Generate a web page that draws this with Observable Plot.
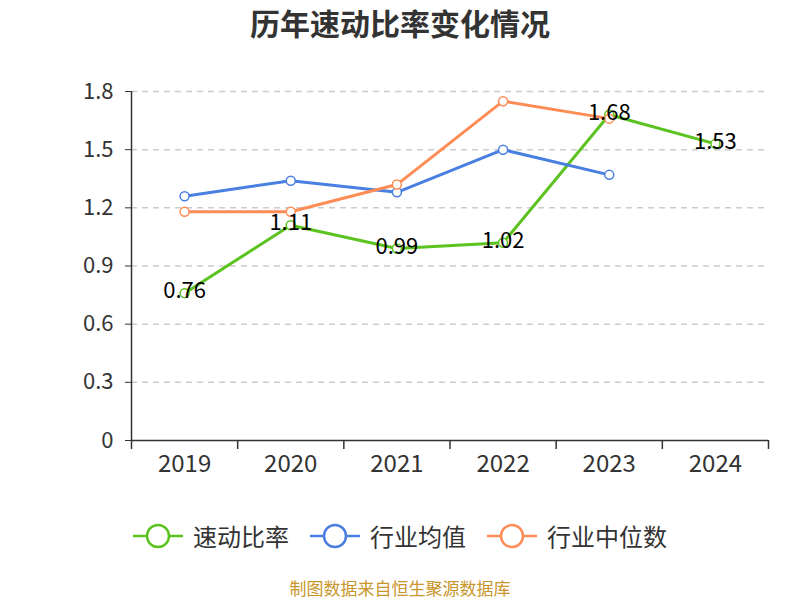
<!DOCTYPE html>
<html>
<head>
<meta charset="utf-8">
<script src="https://cdn.jsdelivr.net/npm/d3@7"></script>
<script src="https://cdn.jsdelivr.net/npm/@observablehq/plot@0.6"></script>
<style>
  body { margin: 0; background: #fff; font-family: "Noto Sans CJK SC", "Noto Sans", sans-serif; }
  #wrap { position: relative; width: 800px; height: 600px; overflow: hidden; }
  #title { position: absolute; top: 4px; left: 0; width: 800px; text-align: center; font-size: 30px; line-height: 36px; font-weight: bold; color: #333; }
  #chart { position: absolute; top: 50px; left: 0; }
  #legend { position: absolute; top: 518px; left: 0; width: 800px; height: 36px; }
  .item { position: absolute; top: 0; display: flex; align-items: center; font-size: 24px; line-height: 36px; color: #333; }
  #caption { position: absolute; top: 578px; left: 0; width: 800px; text-align: center; font-size: 17px; line-height: 20px; color: #c8962a; }
</style>
</head>
<body>
<div id="wrap">
  <div id="title">历年速动比率变化情况</div>
  <div id="chart"></div>
  <div id="legend"></div>
  <div id="caption">制图数据来自恒生聚源数据库</div>
</div>
<script>
const years = [2019, 2020, 2021, 2022, 2023, 2024];
const quickRatio = [0.76, 1.11, 0.99, 1.02, 1.68, 1.53];
const industryMean = [1.26, 1.34, 1.28, 1.50, 1.37, null];
const industryMedian = [1.18, 1.18, 1.32, 1.75, 1.66, null];
const yTicks = [0, 0.3, 0.6, 0.9, 1.2, 1.5, 1.8];
const seriesNames = ["速动比率", "行业均值", "行业中位数"];
const colors = ["#5cc21f", "#4a7fe2", "#ff8c55"];

const rows = (vals, name) => years.map((y, i) => ({year: y, value: vals[i], series: name})).filter(d => d.value != null);
const green = rows(quickRatio, seriesNames[0]);
const blue = rows(industryMean, seriesNames[1]);
const orange = rows(industryMedian, seriesNames[2]);
const boundaries = years.map(y => y - 0.5).concat([years[years.length - 1] + 0.5]);

const chart = Plot.plot({
  width: 800,
  height: 430,
  marginTop: 41,
  marginBottom: 40,
  marginLeft: 131,
  marginRight: 32,
  style: { fontFamily: "Noto Sans CJK SC, sans-serif", fontSize: "20px", color: "#333", background: "transparent", overflow: "visible" },
  x: { type: "linear", domain: [boundaries[0], boundaries[boundaries.length - 1]], axis: null, label: null },
  y: { domain: [0, 1.8], axis: null, label: null },
  marks: [
    Plot.ruleY(yTicks.filter(d => d > 0), { stroke: "#ccc", strokeWidth: 1.5, strokeDasharray: "6,5" }),
    Plot.ruleY([0], { stroke: "#333", strokeWidth: 1.5 }),
    Plot.ruleX([boundaries[0]], { stroke: "#333", strokeWidth: 1.5 }),
    Plot.axisX(boundaries, { tickSize: 9, tickFormat: () => "", stroke: "#333", strokeWidth: 1.5, label: null }),
    Plot.axisX(years, { tickSize: 0, tickPadding: 14, tickFormat: d => String(d), fill: "#333", fontSize: 24, label: null }),
    Plot.axisY(yTicks, { tickSize: 6, tickPadding: 12, tickFormat: d => d === 0 ? "0" : d.toFixed(1), stroke: "#333", fill: "#333", fontSize: 22, label: null }),
    Plot.line(green, { x: "year", y: "value", stroke: colors[0], strokeWidth: 3 }),
    Plot.line(blue, { x: "year", y: "value", stroke: colors[1], strokeWidth: 3 }),
    Plot.line(orange, { x: "year", y: "value", stroke: colors[2], strokeWidth: 3 }),
    Plot.dot(green, { x: "year", y: "value", r: 4.5, fill: "#fff", stroke: colors[0], strokeWidth: 1.5 }),
    Plot.dot(blue, { x: "year", y: "value", r: 4.5, fill: "#fff", stroke: colors[1], strokeWidth: 1.5 }),
    Plot.dot(orange, { x: "year", y: "value", r: 4.5, fill: "#fff", stroke: colors[2], strokeWidth: 1.5 }),
    Plot.text(green, { x: "year", y: "value", text: d => d.value.toFixed(2), fill: "#000", fontSize: 22, dy: -2 })
  ]
});
document.getElementById("chart").appendChild(chart);

const legend = document.getElementById("legend");
const lefts = [133, 310, 487];
seriesNames.forEach((name, i) => {
  const div = document.createElement("div");
  div.className = "item";
  div.style.left = lefts[i] + "px";
  div.innerHTML = `<svg width="50" height="36" style="margin-right:10px"><line x1="0" y1="18" x2="50" y2="18" stroke="${colors[i]}" stroke-width="2.5"/><circle cx="25" cy="18" r="11" fill="#fff" stroke="${colors[i]}" stroke-width="2.5"/></svg><span>${name}</span>`;
  legend.appendChild(div);
});
</script>
</body>
</html>
